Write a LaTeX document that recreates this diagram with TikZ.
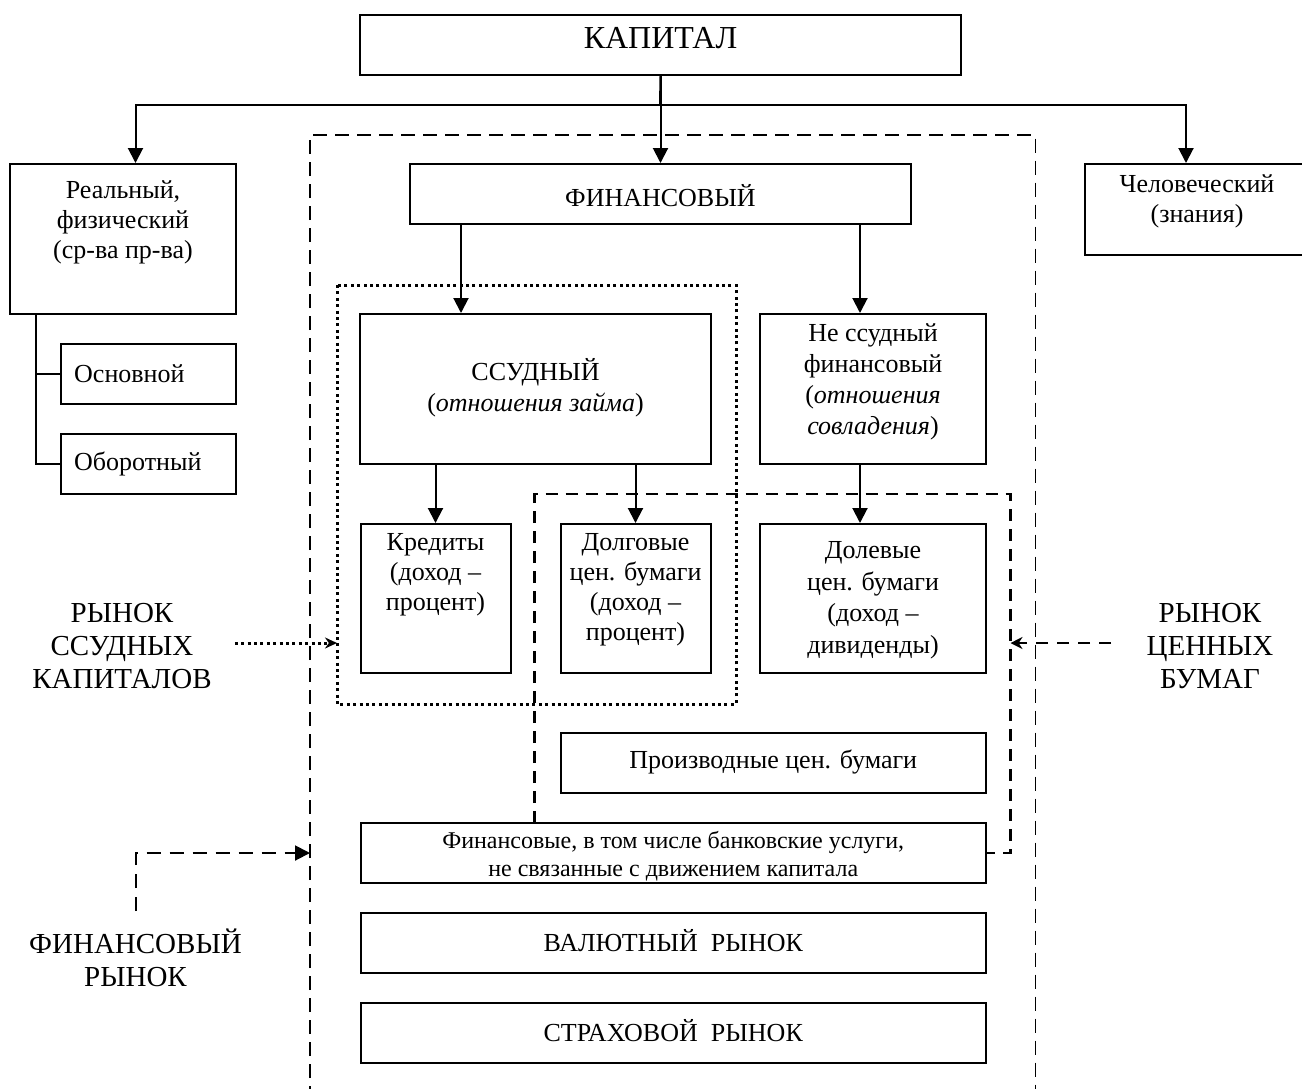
\documentclass[tikz,border=0pt]{standalone}
\usepackage{fontspec}
\setmainfont{Liberation Serif}
\usetikzlibrary{arrows.meta}

\begin{document}
\begin{tikzpicture}[x=1pt,y=-1pt,
  box/.style={draw, line width=2pt, inner sep=0pt},
  txt/.style={inner sep=0pt, align=center, font=\fontsize{26}{30}\selectfont},
  small/.style={inner sep=0pt, align=center, font=\fontsize{24}{28}\selectfont},
  big/.style={inner sep=0pt, align=center, font=\fontsize{29}{33}\selectfont},
  conn/.style={line width=2pt},
  arr/.style={line width=2pt, -{Triangle[length=15pt,width=15pt]}},
  outerframe/.style={line width=1.4pt, dash pattern=on 14pt off 8pt},
  secframe/.style={line width=2.2pt, dash pattern=on 12pt off 8pt},
  loanframe/.style={line width=3pt, dash pattern=on 3pt off 3.4pt},
]
\clip (0,0) rectangle (1302,1088);
\fill[white] (0,0) rectangle (1302,1088);

% ---- boxes ----
\node[box, minimum width=601pt, minimum height=60pt] (kap) at (660.5,45) {};
\node[box, minimum width=226pt, minimum height=150pt] (real) at (123,239) {};
\node[box, minimum width=175pt, minimum height=60pt] (osn) at (148.5,374) {};
\node[box, minimum width=175pt, minimum height=60pt] (obor) at (148.5,464) {};
\node[box, minimum width=501pt, minimum height=60pt] (fin) at (660.5,194) {};
\node[box, minimum width=225pt, minimum height=91pt] (hum) at (1197.5,209.5) {};
\node[box, minimum width=351pt, minimum height=150pt] (ssud) at (535.5,389) {};
\node[box, minimum width=226pt, minimum height=150pt] (nss) at (873,389) {};
\node[box, minimum width=150pt, minimum height=149pt] (kred) at (435.5,598.5) {};
\node[box, minimum width=150pt, minimum height=149pt] (dolg) at (635.5,598.5) {};
\node[box, minimum width=226pt, minimum height=149pt] (dolev) at (873,598.5) {};
\node[box, minimum width=425.5pt, minimum height=60pt] (proizv) at (773.25,763) {};
\node[box, minimum width=625.5pt, minimum height=60pt] (finusl) at (673.25,853) {};
\node[box, minimum width=625.5pt, minimum height=60pt] (val) at (673.25,943) {};
\node[box, minimum width=625.5pt, minimum height=60pt] (strah) at (673.25,1033) {};

% ---- box texts ----
\node[txt, font=\fontsize{32}{36}\selectfont] (kapt) at (660.5,38) {КАПИТАЛ};
\node[txt] (realt) at (123,222) {Реальный,\\физический\\(ср-ва пр-ва)};
\node[txt, anchor=west] (osnt) at (74,374) {Основной};
\node[txt, anchor=west] (obort) at (74,464) {Оборотный};
\node[txt] (fint) at (660.5,196) {ФИНАНСОВЫЙ};
\node[txt] (humt) at (1197,201) {Человеческий\\(знания)};
\node[txt, font=\fontsize{26}{31}\selectfont] (ssudt) at (535.5,388) {ССУДНЫЙ\\(\textit{отношения займа})};
\node[txt, font=\fontsize{26}{31}\selectfont] (nsst) at (873,382) {Не ссудный\\финансовый\\(\textit{отношения}\\\textit{совладения})};
\node[txt] (kredt) at (435.5,575) {Кредиты\\(доход –\\процент)};
\node[txt] (dolgt) at (635.5,590) {Долговые\\цен. бумаги\\(доход –\\процент)};
\node[txt, font=\fontsize{26}{31.5}\selectfont] (dolevt) at (873,600) {Долевые\\цен. бумаги\\(доход –\\дивиденды)};
\node[txt] (proizvt) at (773.25,762) {Производные цен. бумаги};
\node[small] (finuslt) at (673.25,856) {Финансовые, в том числе банковские услуги,\\не связанные с движением капитала};
\node[txt] (valt) at (673.25,941) {ВАЛЮТНЫЙ\ \ РЫНОК};
\node[txt] (straht) at (673.25,1031) {СТРАХОВОЙ\ \ РЫНОК};

% ---- side labels ----
\node[big] (loanmkt) at (122,646) {РЫНОК\\ССУДНЫХ\\КАПИТАЛОВ};
\node[big] (secmkt) at (1210,646) {РЫНОК\\ЦЕННЫХ\\БУМАГ};
\node[big] (finmkt) at (135.5,958) {ФИНАНСОВЫЙ\\РЫНОК};

% ---- frames ----
\coordinate (ofl) at (310,1100);
\coordinate (ofr) at (1035.5,1100);
\draw[outerframe] (ofl) -- (310,135) -- (1035.5,135) -- (ofr);
\draw[loanframe] (337,285) rectangle (736,704);
\coordinate (secbl) at (534.5,823);
\draw[secframe] (secbl) -- (534.5,494) -- (1010.5,494) -- (1010.5,853) -- (finusl.east);

% ---- hierarchy connectors ----
\coordinate (split) at (660,105);
\draw[conn] (kap.south) -- (split);
\draw[arr] (kap.south) -- (fin.north);
\draw[arr] (split) -- (135.5,105) -- (real.north -| 135.5,0);
\draw[arr] (split) -- (1186,105) -- (hum.north -| 1186,0);
\draw[arr] (fin.south -| 461,0) -- (ssud.north -| 461,0);
\draw[arr] (fin.south -| 860,0) -- (nss.north -| 860,0);
\draw[arr] (ssud.south -| 435.5,0) -- (kred.north);
\draw[arr] (ssud.south -| 635.5,0) -- (dolg.north);
\draw[arr] (nss.south -| 860,0) -- (dolev.north -| 860,0);
\draw[conn] (real.south -| 36,0) -- (obor.west -| 36,0) -- (obor.west);
\draw[conn] (osn.west -| 36,0) -- (osn.west);

% ---- market pointers ----
\coordinate (loanin) at (337,643);
\coordinate (secin) at (1010.5,643);
\coordinate (finin) at (310,853);
\draw[loanframe, -{Stealth[length=12pt,width=11pt]}] (loanmkt.east |- loanin) ++(23,0) -- (loanin);
\draw[line width=2pt, dash pattern=on 12pt off 9pt, -{Stealth[length=12pt,width=12pt]}] (1111,643) -- (secin);
\draw[line width=2pt, dash pattern=on 14pt off 9pt, -{Triangle[length=15pt,width=15pt]}] (finmkt.north |- 0,911) -- (135.5,853) -- (finin);
\end{tikzpicture}
\end{document}
